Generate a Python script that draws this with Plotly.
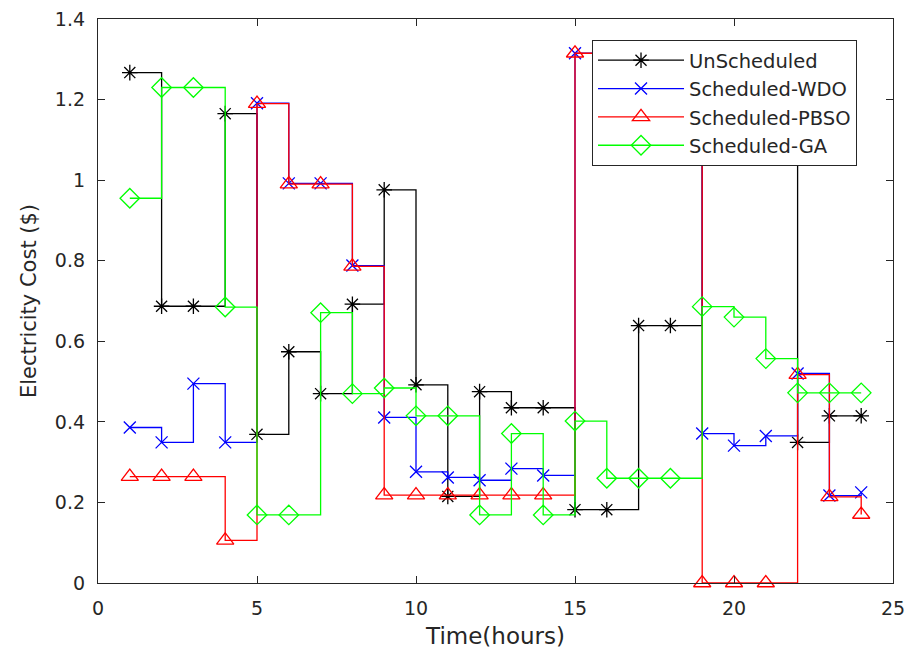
import plotly.graph_objects as go

hours = list(range(1, 25))
unscheduled = [1.267, 0.687, 0.687, 1.165, 0.369, 0.574, 0.470, 0.692, 0.976, 0.492, 0.215, 0.475,
               0.435, 0.435, 0.182, 0.182, 0.639, 0.639, 1.22, 1.25, 1.18, 0.349, 0.415, 0.415]
wdo = [0.386, 0.349, 0.495, 0.349, 1.191, 0.992, 0.992, 0.788, 0.411, 0.276, 0.262, 0.255,
       0.284, 0.267, 1.315, 1.25, 1.22, 1.28, 0.371, 0.341, 0.365, 0.520, 0.217, 0.225]
pbso = [0.264, 0.264, 0.264, 0.106, 1.190, 0.990, 0.990, 0.786, 0.218, 0.218, 0.218, 0.218,
        0.218, 0.218, 1.315, 1.25, 1.22, 1.28, 0.0, 0.0, 0.0, 0.517, 0.214, 0.170]
ga = [0.955, 1.230, 1.230, 0.685, 0.169, 0.169, 0.671, 0.470, 0.484, 0.415, 0.415, 0.169,
      0.371, 0.169, 0.402, 0.260, 0.260, 0.260, 0.686, 0.660, 0.557, 0.472, 0.472, 0.472]

series = [
    ("UnScheduled", unscheduled, "#000000", "asterisk-open", 13),
    ("Scheduled-WDO", wdo, "#0000FF", "x-thin-open", 12),
    ("Scheduled-PBSO", pbso, "#FF0000", "triangle-up-open", 15),
    ("Scheduled-GA", ga, "#00FF00", "diamond-open", 15),
]

fig = go.Figure()
for name, vals, color, sym, size in series:
    fig.add_trace(go.Scatter(
        x=hours, y=vals, name=name, mode="lines+markers",
        line=dict(color=color, width=1.3, shape="hv"),
        marker=dict(symbol=sym, size=size, color=color, line=dict(color=color, width=1.3)),
        cliponaxis=False,
    ))

axis_common = dict(
    showgrid=False, zeroline=False, showline=True, mirror="ticks",
    linecolor="#262626", linewidth=1.3, ticks="inside", ticklen=7,
    tickcolor="#262626", tickwidth=1.3, automargin=False,
    tickfont=dict(family="DejaVu Sans", size=19, color="#262626"),
)

fig.update_xaxes(range=[0, 25], dtick=5, tick0=0,
                 title=dict(text="Time(hours)", font=dict(family="DejaVu Sans", size=23, color="#262626"), standoff=12),
                 ticklabelstandoff=8, **axis_common)
fig.update_yaxes(range=[0, 1.4], dtick=0.2, tick0=0,
                 title=dict(text="Electricity Cost ($)", font=dict(family="DejaVu Sans", size=21, color="#262626"), standoff=12),
                 ticklabelstandoff=8, **axis_common)

fig.update_layout(
    template="none",
    width=912, height=649,
    margin=dict(l=98, r=19, t=19, b=66, autoexpand=False),
    paper_bgcolor="white", plot_bgcolor="white",
    hovermode=False,
    legend=dict(
        x=0.6214, y=0.9627, xanchor="left", yanchor="top",
        bgcolor="white", bordercolor="#262626", borderwidth=1,
        font=dict(family="DejaVu Sans", size=19.5, color="#262626"),
        itemwidth=86, tracegroupgap=0,
    ),
    showlegend=True,
)

fig.write_html("out.html", config={"displayModeBar": False},
               post_script="document.body.style.margin='0';document.body.style.overflow='hidden';")
